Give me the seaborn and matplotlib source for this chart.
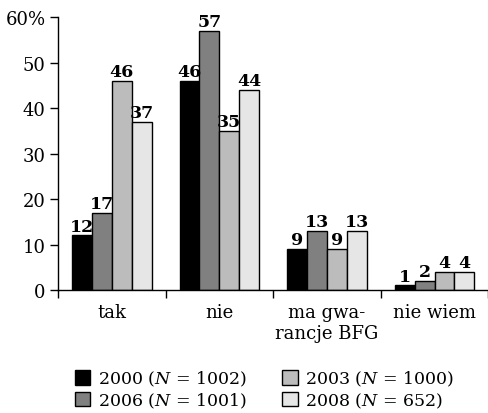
import matplotlib
matplotlib.use("Agg")
import matplotlib.pyplot as plt
import seaborn as sns
import pandas as pd
from matplotlib.ticker import FixedLocator

categories = ["tak", "nie", "ma gwa-\nrancje BFG", "nie wiem"]
series = [r"2000 ($N$ = 1002)", r"2006 ($N$ = 1001)",
          r"2003 ($N$ = 1000)", r"2008 ($N$ = 652)"]
v2000 = [12, 46, 9, 1]
v2006 = [17, 57, 13, 2]
v2003 = [46, 35, 9, 4]
v2008 = [37, 44, 13, 4]
yticks = [0, 10, 20, 30, 40, 50, 60]
yticklabels = ["0", "10", "20", "30", "40", "50", "60%"]
colors = ["#000000", "#808080", "#bcbcbc", "#e6e6e6"]

rows = []
for s, vals in zip(series, [v2000, v2006, v2003, v2008]):
    for c, v in zip(categories, vals):
        rows.append({"cat": c, "series": s, "val": v})
df = pd.DataFrame(rows)

sns.set_style("ticks")
plt.rcParams["font.family"] = ["DejaVu Serif"]
plt.rcParams["mathtext.fontset"] = "dejavuserif"
plt.rcParams["font.size"] = 12
plt.rcParams["text.color"] = "black"
plt.rcParams["axes.labelcolor"] = "black"
plt.rcParams["xtick.color"] = "black"
plt.rcParams["ytick.color"] = "black"
plt.rcParams["axes.edgecolor"] = "black"

fig = plt.figure(figsize=(4.89, 4.14), dpi=100)
ax = fig.add_axes([0.1186, 0.297, 0.88, 0.6595])
sns.barplot(data=df, x="cat", y="val", hue="series", order=categories,
            hue_order=series, palette=colors, edgecolor="black",
            linewidth=1.0, width=0.74, gap=0, ax=ax, legend=True)

for cont in ax.containers:
    ax.bar_label(cont, fmt="%d", fontweight="bold", padding=0.5, fontsize=12.5,
                 color="black")

ax.set_ylim(0, 60)
ax.set_xlim(-0.5, 3.5)
ax.set_yticks(yticks)
ax.set_yticklabels(yticklabels, fontsize=13)
ax.set_xticks(range(len(categories)))
ax.set_xticklabels(categories, fontsize=13, linespacing=1.25)
ax.tick_params(axis="x", which="major", length=0, pad=9)
ax.xaxis.set_minor_locator(FixedLocator([-0.5, 0.5, 1.5, 2.5, 3.5]))
ax.tick_params(axis="x", which="minor", length=6, width=1, direction="out")
ax.tick_params(axis="y", length=6, width=1, direction="out", pad=3)
ax.set_xlabel("")
ax.set_ylabel("")
for sp in ["top", "right"]:
    ax.spines[sp].set_visible(False)
ax.spines["left"].set_linewidth(1)
ax.spines["bottom"].set_linewidth(1)

handles, labels = ax.get_legend_handles_labels()
ax.legend(handles, labels, ncol=2, frameon=False, loc="upper left",
          bbox_to_anchor=(0.153, 0.107), bbox_transform=fig.transFigure,
          fontsize=12.5, handlelength=0.9, handleheight=0.9,
          handletextpad=0.45, columnspacing=2.0, labelspacing=0.15,
          borderaxespad=0, borderpad=0)

fig.savefig("out.png", dpi=100)
